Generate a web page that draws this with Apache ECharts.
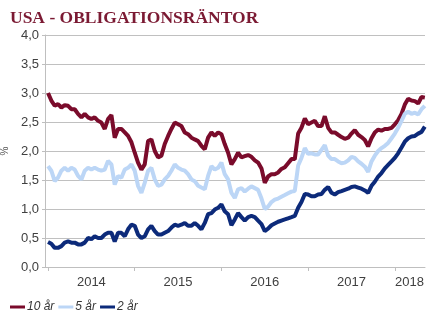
<!DOCTYPE html>
<html>
<head>
<meta charset="utf-8">
<script src="https://cdn.jsdelivr.net/npm/echarts@6/dist/echarts.min.js"></script>
<style>
  html, body { margin: 0; padding: 0; background: #ffffff; }
  #chart { width: 445px; height: 327px; }
</style>
</head>
<body>
<div id="chart"></div>
<script>
// Decimal-year dates (biweekly sampling)
const dates = [
  2014.000,2014.038,2014.077,2014.115,2014.154,2014.192,2014.231,2014.269,2014.308,2014.346,2014.385,2014.423,2014.462,2014.500,2014.538,2014.577,2014.615,2014.654,2014.692,2014.731,2014.769,2014.808,2014.846,2014.885,2014.923,2014.962,
  2015.000,2015.038,2015.077,2015.115,2015.154,2015.192,2015.231,2015.269,2015.308,2015.346,2015.385,2015.423,2015.462,2015.500,2015.538,2015.577,2015.615,2015.654,2015.692,2015.731,2015.769,2015.808,2015.846,2015.885,2015.923,2015.962,
  2016.000,2016.038,2016.077,2016.115,2016.154,2016.192,2016.231,2016.269,2016.308,2016.346,2016.385,2016.423,2016.462,2016.500,2016.538,2016.577,2016.615,2016.654,2016.692,2016.731,2016.769,2016.808,2016.846,2016.885,2016.923,2016.962,
  2017.000,2017.038,2017.077,2017.115,2017.154,2017.192,2017.231,2017.269,2017.308,2017.346,2017.385,2017.423,2017.462,2017.500,2017.538,2017.577,2017.615,2017.654,2017.692,2017.731,2017.769,2017.808,2017.846,2017.885,2017.923,2017.962,
  2018.000,2018.038,2018.077,2018.115,2018.154,2018.192,2018.231,2018.269,2018.308,2018.346
];

const y10 = [
  3.00,2.87,2.78,2.81,2.75,2.79,2.78,2.72,2.72,2.64,2.58,2.64,2.58,2.55,2.58,2.52,2.49,2.38,2.55,2.62,2.23,2.38,2.38,2.32,2.26,2.15,1.97,1.80,1.68,
  1.77,2.17,2.20,2.00,1.89,1.92,2.12,2.26,2.38,2.49,2.46,2.43,2.32,2.29,2.23,2.20,2.17,2.09,2.03,2.23,2.32,2.26,2.32,2.29,2.12,1.97,1.77,1.86,1.97,
  1.89,1.91,1.93,1.90,1.84,1.80,1.70,1.45,1.56,1.60,1.60,1.63,1.69,1.72,1.79,1.86,1.86,2.30,2.40,2.56,2.46,2.49,2.52,2.43,2.43,2.60,2.40,2.32,2.32,
  2.28,2.24,2.21,2.23,2.30,2.36,2.28,2.24,2.19,2.08,2.22,2.32,2.37,2.35,2.38,2.38,2.40,2.46,2.53,2.64,2.80,2.90,2.87,2.86,2.82,2.93,2.92
];

const y5 = [
  1.74,1.66,1.48,1.54,1.66,1.71,1.66,1.71,1.68,1.57,1.51,1.66,1.71,1.68,1.71,1.68,1.66,1.68,1.83,1.77,1.42,1.57,1.54,1.68,1.71,1.77,1.66,1.40,1.28,
  1.45,1.66,1.71,1.51,1.40,1.42,1.51,1.57,1.66,1.77,1.71,1.68,1.66,1.60,1.51,1.48,1.40,1.37,1.34,1.57,1.74,1.68,1.71,1.80,1.60,1.51,1.28,1.19,1.34,
  1.36,1.30,1.35,1.39,1.36,1.33,1.18,1.00,1.04,1.12,1.16,1.18,1.21,1.24,1.27,1.30,1.31,1.75,1.88,2.05,1.95,1.96,1.94,1.94,2.02,2.10,1.92,1.86,1.86,
  1.82,1.79,1.80,1.84,1.90,1.88,1.82,1.78,1.73,1.64,1.82,1.92,2.00,2.05,2.09,2.14,2.22,2.30,2.40,2.52,2.64,2.68,2.64,2.66,2.63,2.72,2.78
];

const y2 = [
  0.43,0.40,0.33,0.33,0.36,0.42,0.44,0.42,0.42,0.39,0.39,0.42,0.50,0.48,0.53,0.50,0.50,0.56,0.59,0.59,0.44,0.59,0.59,0.53,0.65,0.73,0.71,0.56,0.50,
  0.53,0.65,0.71,0.62,0.56,0.56,0.59,0.62,0.68,0.73,0.71,0.73,0.76,0.71,0.71,0.76,0.71,0.65,0.76,0.91,0.93,0.99,1.02,1.08,0.96,0.91,0.72,0.82,0.93,
  0.86,0.80,0.86,0.88,0.86,0.80,0.74,0.62,0.66,0.72,0.75,0.78,0.80,0.82,0.84,0.86,0.88,1.02,1.12,1.26,1.25,1.22,1.22,1.25,1.26,1.33,1.38,1.28,1.25,
  1.29,1.31,1.33,1.35,1.38,1.39,1.37,1.35,1.32,1.28,1.40,1.47,1.56,1.62,1.70,1.76,1.82,1.88,1.96,2.06,2.16,2.22,2.25,2.26,2.30,2.33,2.42
];

const seriesNames = ['10 år', '5 år', '2 år'];
const yearTicks = [2014, 2015, 2016, 2017, 2018];
const yearLabelPos = [2014.5, 2015.5, 2016.5, 2017.5, 2018.17];

function pairs(vals) { return dates.map((d, i) => [d, vals[i]]); }

const colors = ['#7A0B2B', '#BCD6F6', '#0C2A7A'];
const chart = echarts.init(document.getElementById('chart'), null, { renderer: 'canvas' });

chart.setOption({
  animation: false,
  backgroundColor: '#ffffff',
  title: {
    text: 'USA - OBLIGATIONSRÄNTOR',
    left: 5, top: 4,
    textStyle: { fontFamily: 'Liberation Serif', fontWeight: 'bold', fontSize: 17.5, color: '#7B1A33' }
  },
  legend: {
    left: 5, top: 296,
    icon: 'rect', itemWidth: 15, itemHeight: 3, itemGap: 4,
    textStyle: { fontFamily: 'Liberation Sans', fontStyle: 'italic', fontSize: 12, color: '#333', padding: [0, 0, 0, -3] },
    data: seriesNames
  },
  grid: { left: 45, right: 20, top: 35, bottom: 60, containLabel: false, outerBoundsMode: 'none' },
  xAxis: {
    type: 'value', min: 2013.965, max: 2018.348,
    axisLine: { show: true, lineStyle: { color: '#BFBFBF', width: 1 } },
    axisTick: { show: true, length: 4, customValues: yearTicks, lineStyle: { color: '#BFBFBF' } },
    axisLabel: { customValues: yearLabelPos, formatter: v => String(Math.floor(v)), margin: 9,
      fontFamily: 'Liberation Sans', fontSize: 13, color: '#404040' },
    splitLine: { show: false }
  },
  yAxis: {
    type: 'value', min: 0, max: 4, interval: 0.5,
    name: '%', nameLocation: 'middle', nameGap: 31, nameRotate: 90,
    nameTextStyle: { fontFamily: 'Liberation Sans', fontSize: 10, color: '#555' },
    axisLine: { show: true, lineStyle: { color: '#BFBFBF', width: 1 } },
    axisTick: { show: true, length: 3, lineStyle: { color: '#BFBFBF' } },
    axisLabel: { formatter: v => v.toFixed(1).replace('.', ','), margin: 6,
      fontFamily: 'Liberation Sans', fontSize: 13, color: '#404040' },
    splitLine: { show: true, lineStyle: { color: '#C0C0C0', width: 1 } }
  },
  series: [
    { name: seriesNames[0], type: 'line', data: pairs(y10), showSymbol: false, color: colors[0], lineStyle: { width: 4, color: colors[0] } },
    { name: seriesNames[1], type: 'line', data: pairs(y5), showSymbol: false, color: colors[1], lineStyle: { width: 4, color: colors[1] } },
    { name: seriesNames[2], type: 'line', data: pairs(y2), showSymbol: false, color: colors[2], lineStyle: { width: 4, color: colors[2] } }
  ]
});
</script>
</body>
</html>
